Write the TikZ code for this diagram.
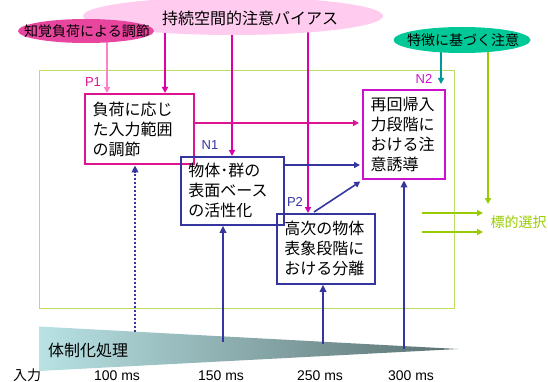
\documentclass[tikz,border=0pt]{standalone}
\usepackage{fontspec}
\setmainfont{Liberation Sans}
\newfontfamily\jp{Noto Sans CJK JP}
\usetikzlibrary{shapes.geometric,arrows.meta,backgrounds}
\definecolor{lpink}{HTML}{FFCCF0}
\definecolor{dpink}{HTML}{E8459E}
\definecolor{tealfill}{HTML}{00C896}
\definecolor{tealarrow}{HTML}{009999}
\definecolor{ppink}{HTML}{FF80CC}
\definecolor{magp}{HTML}{DD1490}
\definecolor{magv}{HTML}{DD00AA}
\definecolor{magn}{HTML}{CC11CC}
\definecolor{blu}{HTML}{3535A0}
\definecolor{frameg}{HTML}{BBDD66}
\definecolor{grn}{HTML}{99CC00}
\definecolor{wedgeL}{HTML}{B8E2E4}
\definecolor{wedgeR}{HTML}{5A7070}
\begin{document}
\begin{tikzpicture}[x=1pt,y=-1pt,
  tip/.style={-{Triangle[length=6pt,width=6pt]}},
  bigtip/.style={-{Triangle[length=7pt,width=6.5pt]}},
  stepbox/.style={anchor=north west, align=left, inner xsep=7.5pt, inner ysep=0pt,
    font=\jp\fontsize{16}{20}\selectfont},
  lbl/.style={font=\fontsize{13}{13}\selectfont},
  jp14/.style={font=\jp\fontsize{14}{14}\selectfont},
  jp16/.style={font=\jp\fontsize{16}{16}\selectfont},
  ms/.style={anchor=base, font=\fontsize{14}{14}\selectfont},
]
\useasboundingbox (0,0) rectangle (548,382);

% ellipses
\node[ellipse, fill=lpink, minimum width=300, minimum height=38, inner sep=0pt] (biasE) at (233,16) {};
\node[jp16] (bias) at (250,18) {持続空間的注意バイアス};
\node[ellipse, fill=dpink, minimum width=136, minimum height=24, inner sep=0pt] (loadE) at (86,31) {};
\node[jp14] (load) at (87,31) {知覚負荷による調節};
\node[ellipse, fill=tealfill, minimum width=137, minimum height=26, inner sep=0pt] (featE) at (462,40) {};
\node[jp14] (feat) at (463,40) {特徴に基づく注意};

% boxes
\node[stepbox, draw=magp, line width=2.4pt, text width=94pt, minimum height=70pt] (P1) at (84,93)
  {負荷に応じ\\た入力範囲\\の調節};
\node[stepbox, draw=blu, line width=1.8pt, text width=88pt, minimum height=68pt] (N1) at (180,156)
  {物体･群の\\表面ベース\\の活性化};
\node[stepbox, draw=blu, line width=1.8pt, text width=83pt, minimum height=70pt] (P2) at (276,213)
  {高次の物体\\表象段階に\\おける分離};
\node[stepbox, draw=magn, line width=2.4pt, text width=67pt, minimum height=89pt] (N2) at (362,89)
  {再回帰入\\力段階に\\おける注\\意誘導};

% labels
\node[lbl, text=magp] (lP1) at (93,82) {P1};
\node[lbl, text=blu] (lN1) at (210,145) {N1};
\node[lbl, text=blu] (lP2) at (295,202) {P2};
\node[lbl, text=magn] (lN2) at (424,79) {N2};

% wedge
\shade[left color=wedgeL, right color=wedgeR] (39,326.5) -- (458,349) -- (39,371) -- cycle;
\node[jp16] (org) at (88,350) {体制化処理};

% bottom labels
\node[anchor=base, font=\jp\fontsize{14}{14}\selectfont] (inp) at (27,380) {入力};
\node[ms] (t100) at (117,380) {100 ms};
\node[ms] (t150) at (221,380) {150 ms};
\node[ms] (t250) at (320,380) {250 ms};
\node[ms] (t300) at (411,380) {300 ms};

% target selection
\node[jp14, text=grn, anchor=west] (tsel) at (487,222) {標的選択};

% coordinates
\coordinate (g1) at (488,204);
\coordinate (ga1) at (422,213);
\coordinate (gb1) at (483,213);
\coordinate (ga2) at (422,232);
\coordinate (gb2) at (483,232);
\coordinate (s1) at (135,332);
\coordinate (s2) at (223,342);
\coordinate (s3) at (323,344);
\coordinate (s4) at (404,349);
\coordinate (x107) at (107,0);
\coordinate (x165) at (165,0);
\coordinate (x232) at (232,0);
\coordinate (x308) at (308,0);
\coordinate (x441) at (441,0);
\coordinate (x488) at (488,0);
\coordinate (y123) at (0,123);
\coordinate (y165) at (0,165);
\coordinate (d1) at (314,212);

\begin{scope}[on background layer]
  \draw[frameg, line width=0.8pt] (39,70) rectangle (454,308);
  \draw[ppink, line width=2pt, tip] (x107 |- loadE.center) -- (x107 |- P1.north);
  \draw[magv, line width=2pt, tip] (x165 |- biasE.center) -- (x165 |- P1.north);
  \draw[magv, line width=2pt, tip] (x232 |- biasE.center) -- (x232 |- N1.north);
  \draw[magv, line width=2pt, tip] (x308 |- biasE.center) -- (x308 |- P2.north);
  \draw[tealarrow, line width=1.8pt, tip, shorten >=5pt] (x441 |- featE.center) -- (x441 |- N2.north);
  \draw[grn, line width=2pt, tip] (x488 |- featE.center) -- (g1);
\end{scope}

% green arrows
\draw[grn, line width=2pt, tip] (ga1) -- (gb1);
\draw[grn, line width=2pt, tip] (ga2) -- (gb2);

% horizontal connectors
\draw[magp, line width=2pt, tip, shorten >=3pt] (P1.east |- y123) -- (N2.west |- y123);
\draw[blu, line width=2pt, tip, shorten >=2pt] (N1.east |- y165) -- (N2.west |- y165);
\draw[blu, line width=1.6pt, tip, shorten >=2pt] (d1) -- (N2.south west);

% bottom up arrows
\draw[blu, line width=2pt, dotted, bigtip] (s1) -- (s1 |- P1.south);
\draw[blu, line width=2.2pt, bigtip] (s2) -- (s2 |- N1.south);
\draw[blu, line width=2.2pt, bigtip] (s3) -- (s3 |- P2.south);
\draw[blu, line width=2.2pt, bigtip] (s4) -- (s4 |- N2.south);
\end{tikzpicture}
\end{document}
